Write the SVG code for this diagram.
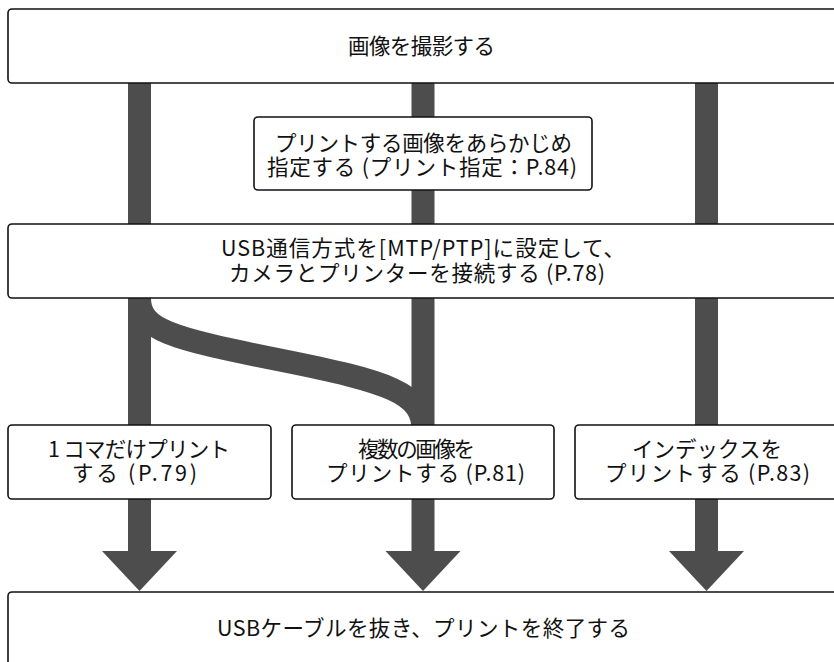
<svg xmlns="http://www.w3.org/2000/svg" width="834" height="662" viewBox="0 0 834 662">
<style>
  .box { fill: #ffffff; stroke: #111111; stroke-width: 1.6; }
  .bar { fill: #4d4d4d; }
  .curve { fill: none; stroke: #4d4d4d; stroke-width: 23; }
  .t { font-family: "Noto Sans CJK JP", "Noto Sans", sans-serif; font-size: 21.5px; fill: #111111; text-anchor: middle; }
</style>
<rect width="834" height="662" fill="#ffffff"/>
<g id="connectors">
  <rect class="bar" x="128" y="80" width="23" height="472"/>
  <rect class="bar" x="411.5" y="80" width="23" height="472"/>
  <rect class="bar" x="695" y="80" width="23" height="472"/>
  <path class="curve" d="M139.5,290 L139.5,298 C139.5,330 170,338 280,360 C390,382 423,393 423,430"/>
  <polygon class="bar" points="102,551 177,551 139.5,591"/>
  <polygon class="bar" points="385.5,551 460.5,551 423,591"/>
  <polygon class="bar" points="669,551 744,551 706.5,591"/>
</g>
<g id="node-shoot">
  <rect class="box" x="8" y="9" width="840" height="74" rx="4"/>
  <text class="t" x="421.5" y="54" textLength="147">画像を撮影する</text>
</g>
<g id="node-dpof">
  <rect class="box" x="254" y="117" width="338" height="73" rx="4"/>
  <text class="t" x="423.5" y="151" textLength="297">プリントする画像をあらかじめ</text>
  <text class="t" x="422" y="175" textLength="310">指定する (プリント指定：P.84)</text>
</g>
<g id="node-usb">
  <rect class="box" x="8" y="224" width="840" height="74" rx="4"/>
  <text class="t" x="423" y="256" textLength="404">USB通信方式を[MTP/PTP]に設定して、</text>
  <text class="t" x="417" y="281" textLength="376">カメラとプリンターを接続する (P.78)</text>
</g>
<g id="node-single">
  <rect class="box" x="8" y="425" width="263" height="74" rx="4"/>
  <text class="t" x="139" y="457" textLength="182">1 コマだけプリント</text>
  <text class="t" x="134.5" y="481" textLength="125">する (P.79)</text>
</g>
<g id="node-multi">
  <rect class="box" x="292" y="425" width="262" height="74" rx="4"/>
  <text class="t" x="416.5" y="457" textLength="117">複数の画像を</text>
  <text class="t" x="425.5" y="481" textLength="199">プリントする (P.81)</text>
</g>
<g id="node-index">
  <rect class="box" x="575" y="425" width="270" height="74" rx="4"/>
  <text class="t" x="707" y="457" textLength="150">インデックスを</text>
  <text class="t" x="707.5" y="481" textLength="205">プリントする (P.83)</text>
</g>
<g id="node-end">
  <rect class="box" x="8" y="592" width="840" height="80" rx="4"/>
  <text class="t" x="423.5" y="636" textLength="413">USBケーブルを抜き、プリントを終了する</text>
</g>
</svg>
